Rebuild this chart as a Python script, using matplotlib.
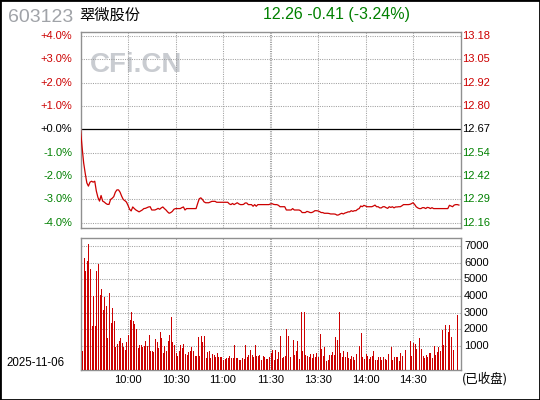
import numpy as np
import matplotlib.pyplot as plt
from matplotlib.patches import Rectangle
from matplotlib.transforms import blended_transform_factory

plt.rcParams['font.family'] = ['Liberation Sans', 'Noto Sans CJK SC', 'DejaVu Sans']

code = '603123'
name = '翠微股份'
trade_date = '2025-11-06'
pre_close = 12.67
last_price = 12.26
change = -0.41
change_pct = -3.24

# percent change vs previous close, one point per minute
pct_chg = [
    0.00, -0.76, -1.44, -1.89, -2.29, -2.43, -2.26, -2.22, -2.26, -2.22,
    -2.64, -2.91, -3.07, -2.83, -3.07, -3.11, -3.17, -3.21, -3.21, -3.00,
    -2.95, -2.88, -2.69, -2.59, -2.59, -2.69, -2.86, -3.00, -3.05, -3.11,
    -3.25, -3.42, -3.49, -3.32, -3.39, -3.45, -3.49, -3.53, -3.49, -3.45,
    -3.39, -3.38, -3.35, -3.32, -3.31, -3.45, -3.45, -3.45, -3.42, -3.38,
    -3.42, -3.36, -3.32, -3.39, -3.45, -3.53, -3.59, -3.56, -3.51, -3.42,
    -3.39, -3.39, -3.39, -3.39, -3.35, -3.32, -3.45, -3.39, -3.39, -3.39,
    -3.39, -3.39, -3.39, -3.39, -3.17, -2.97, -2.93, -3.00, -3.10, -3.14,
    -3.14, -3.14, -3.11, -3.08, -3.08, -3.08, -3.12, -3.12, -3.12, -3.12,
    -3.12, -3.12, -3.12, -3.12, -3.19, -3.22, -3.17, -3.22, -3.18, -3.14,
    -3.19, -3.22, -3.22, -3.21, -3.15, -3.15, -3.22, -3.22, -3.22, -3.29,
    -3.22, -3.29, -3.22, -3.22, -3.22, -3.22, -3.22, -3.22, -3.22, -3.22,
    -3.19, -3.18, -3.21, -3.22, -3.22, -3.25, -3.31, -3.31, -3.31, -3.31,
    -3.45, -3.45, -3.45, -3.45, -3.39, -3.45, -3.45, -3.45, -3.45, -3.48,
    -3.56, -3.56, -3.56, -3.51, -3.53, -3.56, -3.56, -3.53, -3.48, -3.48,
    -3.49, -3.52, -3.56, -3.56, -3.59, -3.59, -3.59, -3.60, -3.62, -3.62,
    -3.62, -3.63, -3.67, -3.66, -3.62, -3.59, -3.62, -3.58, -3.56, -3.53,
    -3.53, -3.48, -3.51, -3.48, -3.48, -3.42, -3.39, -3.28, -3.31, -3.25,
    -3.28, -3.31, -3.31, -3.31, -3.31, -3.28, -3.24, -3.31, -3.31, -3.36,
    -3.36, -3.31, -3.31, -3.35, -3.38, -3.31, -3.34, -3.31, -3.36, -3.32,
    -3.32, -3.31, -3.31, -3.27, -3.22, -3.22, -3.22, -3.22, -3.21, -3.18,
    -3.14, -3.21, -3.31, -3.36, -3.39, -3.39, -3.35, -3.35, -3.39, -3.34,
    -3.35, -3.39, -3.35, -3.39, -3.39, -3.39, -3.39, -3.39, -3.39, -3.39,
    -3.39, -3.39, -3.39, -3.25, -3.28, -3.31, -3.24, -3.22, -3.22, -3.24,
]

# volume per minute (lots)
volume = [
    700, 6280, 5500, 6100, 7120, 5620, 2200, 4000, 2200, 5500,
    5920, 4060, 4420, 3160, 3940, 3400, 1480, 4180, 2380, 3280,
    2500, 940, 1120, 1300, 1480, 1180, 940, 760, 1240, 1660,
    2560, 3040, 2500, 2320, 2020, 880, 1060, 1060, 940, 1000,
    1300, 1000, 1660, 700, 700, 640, 1420, 1240, 880, 1840,
    1480, 580, 1000, 700, 1300, 1660, 2740, 1240, 1060, 580,
    400, 700, 1060, 880, 1120, 520, 460, 640, 700, 940,
    700, 400, 400, 1540, 400, 1600, 1240, 1600, 280, 640,
    700, 280, 520, 460, 340, 580, 340, 340, 340, 160,
    220, 280, 280, 400, 280, 280, 1060, 280, 280, 160,
    160, 280, 220, 1060, 340, 460, 760, 460, 340, 1060,
    400, 400, 460, 160, 400, 340, 220, 220, 340, 580,
    760, 160, 760, 220, 640, 1600, 280, 340, 400, 2020,
    1600, 340, 0, 1360, 460, 700, 1300, 220, 3040, 700,
    3040, 460, 400, 340, 520, 280, 520, 340, 580, 340,
    1720, 820, 400, 940, 100, 160, 460, 460, 640, 460,
    1540, 1360, 3040, 580, 340, 700, 340, 640, 280, 220,
    400, 340, 160, 520, 0, 1000, 1780, 340, 220, 520,
    400, 220, 340, 400, 700, 160, 160, 340, 340, 160,
    340, 220, 160, 520, 0, 940, 160, 340, 340, 340,
    100, 580, 400, 0, 760, 0, 0, 1300, 400, 1180,
    1120, 820, 0, 1480, 820, 400, 280, 460, 340, 580,
    580, 280, 1000, 460, 640, 940, 700, 1960, 1060, 2260,
    0, 1840, 2260, 1540, 760, 0, 0, 2860,
]

time_ticks = [30, 60, 90, 120, 150, 180, 210]
time_labels = ['10:00', '10:30', '11:00', '11:30', '13:30', '14:00', '14:30']
pct_levels = [4, 3, 2, 1, 0, -1, -2, -3, -4]
vol_levels = [1000, 2000, 3000, 4000, 5000, 6000, 7000]

red = '#cc0000'
green = '#008000'
grid_c = '#a0a0a0'
dots = (0, (1, 1.2))

W, H = 540, 400
fig = plt.figure(figsize=(5.4, 4), dpi=100)
ax1 = fig.add_axes([80.5 / W, 1 - 228 / H, 380 / W, 196 / H])
ax2 = fig.add_axes([80.5 / W, 1 - 369.5 / H, 380 / W, 131.5 / H])

for ax in (ax1, ax2):
    ax.set_xlim(0, 240)
    ax.set_yticks([])
    for s in ax.spines.values():
        s.set_color('#909090')
        s.set_linewidth(1.0)
    for t in time_ticks:
        if t == 120:
            ax.axvline(119.5, color=grid_c, lw=0.75, ls=dots, zorder=1)
            ax.axvline(120.5, color=grid_c, lw=0.75, ls=dots, zorder=1)
        else:
            ax.axvline(t, color=grid_c, lw=0.75, ls=dots, zorder=1)

# price panel
ax1.set_ylim(-4.22, 4.16)
ax1.set_xticks([])
tr1 = blended_transform_factory(ax1.transAxes, ax1.transData)
ax1.text(0.025, 2.75, 'CFi.CN', transform=tr1, fontsize=20, fontweight='bold',
         color='#c9ccd1', va='center', ha='left', zorder=0)
for lv in pct_levels:
    if lv == 0:
        ax1.axhline(0, color='black', lw=0.9, zorder=2)
        c = 'black'
    else:
        ax1.axhline(lv, color=grid_c, lw=0.75, ls=dots, zorder=1)
        c = red if lv > 0 else green
    ax1.text(-0.022, lv, f'{lv:+.1f}%', transform=tr1, ha='right', va='center',
             fontsize=8, color=c)
    ax1.text(1.005, lv, f'{pre_close * (1 + lv / 100):.2f}', transform=tr1,
             ha='left', va='center', fontsize=8, color=c)
ax1.plot(np.arange(len(pct_chg)), pct_chg, color=red, lw=0.9, zorder=3)

# volume panel
vmin = -400
ax2.set_ylim(vmin, 7480)
tr2 = blended_transform_factory(ax2.transAxes, ax2.transData)
for v in vol_levels:
    ax2.axhline(v, color=grid_c, lw=0.75, ls=dots, zorder=1)
    ax2.text(1.009, v, str(v), transform=tr2, ha='left', va='center', fontsize=8)
vx = np.arange(len(volume)) + 1
vv = np.array(volume)
keep = vv > 0
ax2.vlines(vx[keep], vmin, vv[keep], color=red, lw=0.72, antialiased=False, zorder=3)
ax2.set_xticks(time_ticks, time_labels)
ax2.tick_params(axis='x', length=0, pad=4, labelsize=8)

# header and footer texts
fig.text(8 / W, 1 - 17 / H, code, fontsize=14, color='#a0a3a8', va='center', ha='left')
fig.text(79 / W, 1 - 15 / H, name, fontsize=11, va='center', ha='left',
         family=['Noto Sans CJK SC', 'DejaVu Sans'])
fig.text(263 / W, 1 - 14 / H, f'{last_price:.2f} {change:.2f} ({change_pct:.2f}%)',
         fontsize=11.5, color=green, va='center', ha='left')
fig.text(6 / W, 1 - 363 / H, trade_date, fontsize=8.3, va='center', ha='left')
fig.text(462 / W, 1 - 379 / H, '(已收盘)', fontsize=9, va='center', ha='left',
         family=['Noto Sans CJK SC', 'DejaVu Sans'])

fig.patches.append(Rectangle((0, 0), 1, 1, transform=fig.transFigure, fill=False,
                             ec='black', lw=2))

fig.savefig('out.png', dpi=100)
